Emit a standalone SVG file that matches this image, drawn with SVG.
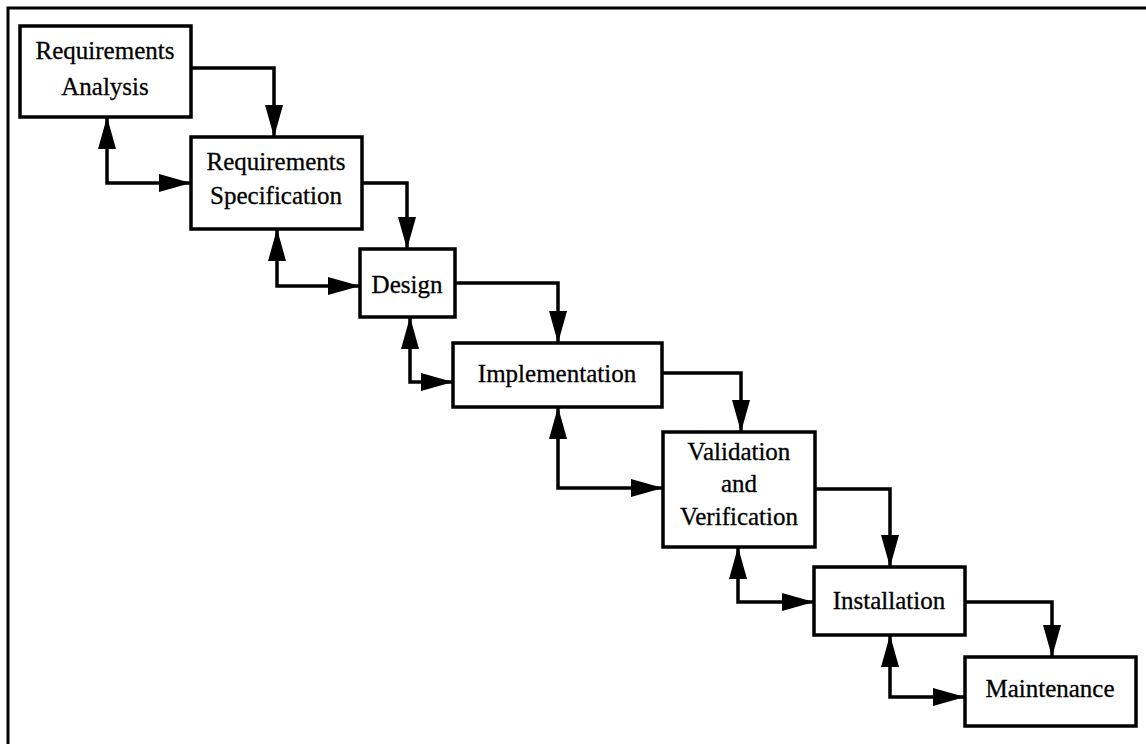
<svg xmlns="http://www.w3.org/2000/svg" width="1146" height="744" viewBox="0 0 1146 744">
<style>
.box{fill:#fff;stroke:#000;stroke-width:3.5}
.lbl{font-family:"Liberation Serif","Times New Roman",serif;font-size:25px;fill:#000;text-anchor:middle;stroke:#000;stroke-width:0.3}
.con{fill:none;stroke:#000;stroke-width:3.5;marker-end:url(#ah)}
.fb{marker-start:url(#ah)}
.frame{fill:none;stroke:#000;stroke-width:3}
</style>
<defs>
<marker id="ah" markerUnits="userSpaceOnUse" markerWidth="33" markerHeight="20" viewBox="0 0 33 20" refX="32" refY="10" orient="auto-start-reverse">
<path d="M0,1 L32,10 L0,19 Z" fill="#000"/>
</marker>
</defs>
<rect width="1146" height="744" fill="#fff"/>
<path class="frame" d="M8,744 V8 H1146"/>
<g id="connectors">
<path class="con" d="M191,68 H274 V137"/>
<path class="con fb" d="M107,117 V183 H191"/>
<path class="con" d="M362,183 H407 V249"/>
<path class="con fb" d="M277,229 V286 H360"/>
<path class="con" d="M455,283 H558 V343"/>
<path class="con fb" d="M410,317 V382 H453"/>
<path class="con" d="M662,373 H741 V432"/>
<path class="con fb" d="M558,407 V488 H663"/>
<path class="con" d="M815,489 H890 V567"/>
<path class="con fb" d="M738,547 V602 H814"/>
<path class="con" d="M965,602 H1052 V657"/>
<path class="con fb" d="M890,635 V697 H965"/>
</g>
<g id="requirements-analysis">
<rect class="box" x="20" y="26" width="171" height="91"/>
<text class="lbl" x="105" y="59">Requirements</text>
<text class="lbl" x="105" y="95">Analysis</text>
</g>
<g id="requirements-specification">
<rect class="box" x="191" y="137" width="171" height="92"/>
<text class="lbl" x="276" y="170">Requirements</text>
<text class="lbl" x="276" y="204">Specification</text>
</g>
<g id="design">
<rect class="box" x="360" y="249" width="95" height="68"/>
<text class="lbl" x="407" y="293">Design</text>
</g>
<g id="implementation">
<rect class="box" x="453" y="343" width="209" height="64"/>
<text class="lbl" x="557" y="382">Implementation</text>
</g>
<g id="validation-verification">
<rect class="box" x="663" y="432" width="152" height="115"/>
<text class="lbl" x="739" y="460">Validation</text>
<text class="lbl" x="739" y="492">and</text>
<text class="lbl" x="739" y="525">Verification</text>
</g>
<g id="installation">
<rect class="box" x="814" y="567" width="151" height="68"/>
<text class="lbl" x="889" y="609">Installation</text>
</g>
<g id="maintenance">
<rect class="box" x="965" y="657" width="171" height="69"/>
<text class="lbl" x="1050" y="697">Maintenance</text>
</g>
</svg>
